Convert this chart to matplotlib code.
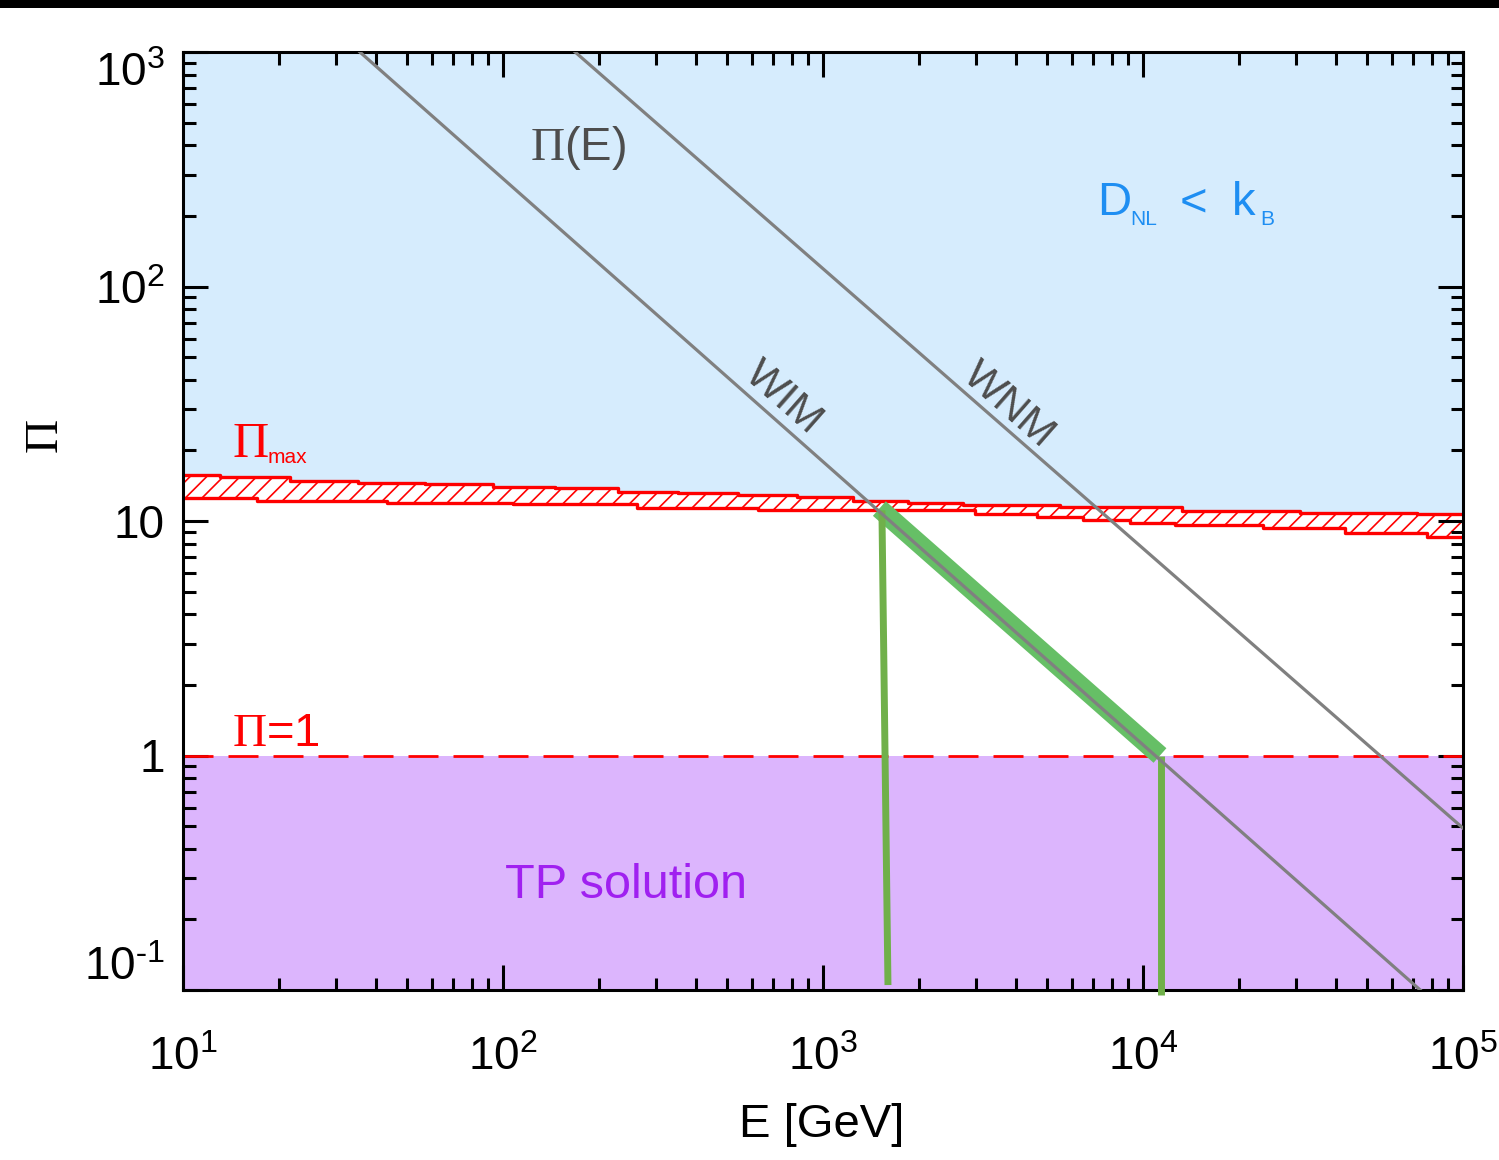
import numpy as np
import matplotlib
matplotlib.use('Agg')
import matplotlib.pyplot as plt
from matplotlib.patches import Rectangle

plt.rcParams['font.family'] = ['Liberation Sans', 'DejaVu Sans']
plt.rcParams['mathtext.fontset'] = 'custom'
plt.rcParams['mathtext.rm'] = 'Liberation Serif'
plt.rcParams['mathtext.sf'] = 'Liberation Sans'
plt.rcParams['mathtext.it'] = 'Liberation Sans:italic'
plt.rcParams['hatch.linewidth'] = 1.2

# Pi_max band: step edges (E in GeV) and values of upper / lower boundary
band_hi_E = [10, 13.05, 21.6, 35.2, 57.1, 93.1, 145.4, 228.8, 352.3, 542.5,
             829.6, 1241, 1843, 2738, 5503, 13245, 30950, 71830]
band_hi = [15.7, 15.36, 14.86, 14.57, 14.34, 14.03, 13.79, 13.30, 13.13, 12.87,
           12.60, 12.21, 11.90, 11.74, 11.47, 11.06, 10.85, 10.68]
band_lo_E = [10, 17.03, 43.4, 107.5, 262.3, 626.3, 2985, 4665, 6494, 9100,
             12590, 23710, 42790, 77190]
band_lo = [12.50, 12.17, 11.97, 11.78, 11.39, 11.14, 10.68, 10.37, 10.10, 9.84,
           9.61, 9.31, 8.92, 8.57]

wim_E = [35.7, 73500]
wim_pi = [1000, 0.1]
wnm_E = [168, 1e5]
wnm_pi = [1000, 0.49]

# green solution segment along WIM and the two vertical bounds
sol_E = [1500, 11300]
sol_pi = [11.3, 1.0]
left_E = [1528, 1596]
left_pi = [11.1, 0.105]
right_E = [11380, 11380]
right_pi = [1.0, 0.095]

pi_one = 1.0

xticks = [1e1, 1e2, 1e3, 1e4, 1e5]
xlabels = [r'$\mathsf{10^{1}}$', r'$\mathsf{10^{2}}$', r'$\mathsf{10^{3}}$',
           r'$\mathsf{10^{4}}$', r'$\mathsf{10^{5}}$']
yticks = [0.1, 1, 10, 100, 1000]
ylabels = [r'$\mathsf{10^{\text{-}1}}$', '1', '10', r'$\mathsf{10^{2}}$', r'$\mathsf{10^{3}}$']

BLUE_BG = '#d6ecfd'
PURPLE_BG = '#dcb5fd'
GRAY = '#808080'
FS = 33

fig = plt.figure(figsize=(14.99, 11.6), dpi=100)
ax = fig.add_axes([183/1499, 170/1160, 1280/1499, 938/1160])
ax.set_xscale('log')
ax.set_yscale('log')
ax.set_xlim(10, 1e5)
ax.set_ylim(0.1, 1e3)

# merge the two step grids so both edges share one x array
edges = np.append(np.union1d(band_hi_E, band_lo_E), 1e5)
hi_v = np.array(band_hi)[np.searchsorted(band_hi_E, edges, side='right') - 1]
lo_v = np.array(band_lo)[np.searchsorted(band_lo_E, edges, side='right') - 1]

ax.fill_between(edges, hi_v, 1e3, step='post', color=BLUE_BG, lw=0, zorder=0)
ax.axhspan(0.1, pi_one, color=PURPLE_BG, lw=0, zorder=0)
ax.fill_between(edges, lo_v, hi_v, step='post', facecolor='white',
                edgecolor='red', hatch='//', lw=0, zorder=1)
ax.step(edges, hi_v, where='post', color='red', lw=2.4, zorder=2)
ax.step(edges, lo_v, where='post', color='red', lw=2.4, zorder=2)

ax.axhline(pi_one, color='red', lw=2, dashes=(10.8, 5.4), zorder=2)

ax.plot(sol_E, sol_pi, color='#66bf66', lw=14, solid_capstyle='butt', zorder=3)
ax.plot(left_E, left_pi, color='#70b04a', lw=5, solid_capstyle='butt', zorder=4)
ax.plot(right_E, right_pi, color='#70b04a', lw=5, solid_capstyle='butt',
        zorder=4, clip_on=False)
ax.plot(wim_E, wim_pi, color=GRAY, lw=2.3, zorder=5)
ax.plot(wnm_E, wnm_pi, color=GRAY, lw=2.3, zorder=5)

# labels
T = ax.transAxes
ax.text(0.2711, 0.8849, r'$\Pi$(E)', color='#4d4d4d', fontsize=34, transform=T)
ax.text(0.46875, 0.6311, 'WIM', color='#4d4d4d', fontsize=31, rotation=-41.3,
        rotation_mode='anchor', ha='center', va='center', transform=T)
ax.text(0.6445, 0.6237, 'WNM', color='#4d4d4d', fontsize=31, rotation=-41.3,
        rotation_mode='anchor', ha='center', va='center', transform=T)

blue = '#1e8ef2'
ax.text(0.7141, 0.8262, 'D', color=blue, fontsize=34, va='baseline', transform=T)
ax.text(0.7398, 0.8156, 'NL', color=blue, fontsize=15, va='baseline', transform=T)
ax.text(0.7789, 0.8262, '<', color=blue, fontsize=34, va='baseline', transform=T)
ax.text(0.8195, 0.8262, 'k', color=blue, fontsize=34, va='baseline', transform=T)
ax.text(0.8414, 0.8156, 'B', color=blue, fontsize=15, va='baseline', transform=T)

ax.text(0.0383, 0.5682, r'$\Pi$', color='red', fontsize=36, va='baseline', transform=T)
ax.text(0.0664, 0.5618, 'max', color='red', fontsize=15, va='baseline', transform=T)
ax.text(0.0383, 0.2601, r'$\Pi$=1', color='red', fontsize=34, va='baseline', transform=T)
ax.text(0.3461, 0.0981, 'TP solution', color='#a020f0', fontsize=35,
        ha='center', va='baseline', transform=T)

ax.text(-0.1070, 0.5896, r'$\Pi$', fontsize=34, rotation=90,
        ha='center', va='center', transform=T)
ax.text(0.4992, -0.1439, 'E [GeV]', fontsize=34, ha='center', va='center', transform=T)

ax.set_xticks(xticks)
ax.set_xticklabels(xlabels)
ax.set_yticks(yticks)
ax.set_yticklabels(ylabels)
yl = ax.get_yticklabels()
yl[0].set_va('bottom')
yl[-1].set_va('top')

ax.tick_params(which='both', direction='in', top=True, right=True, width=2.2)
ax.tick_params(axis='x', which='major', length=18, labelsize=FS, pad=33)
ax.tick_params(axis='y', which='major', length=18, labelsize=FS, pad=13)
ax.tick_params(which='minor', length=9)
for s in ax.spines.values():
    s.set_linewidth(2.2)

fig.add_artist(Rectangle((0, 1 - 8/1160), 1, 8/1160, transform=fig.transFigure,
                         color='black', lw=0))

fig.savefig('out.png', dpi=100)
